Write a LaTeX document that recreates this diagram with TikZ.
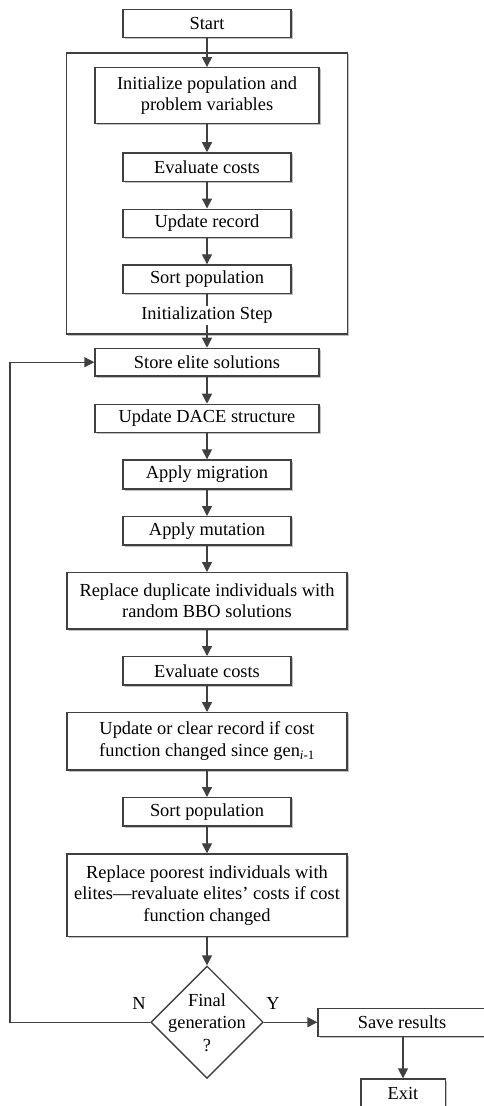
\documentclass[tikz,border=0pt]{standalone}
\usepackage{fontspec}
\setmainfont{Liberation Serif}
\usetikzlibrary{shapes.geometric,arrows.meta,shadows}
\definecolor{ln}{HTML}{404040}
\begin{document}
\begin{tikzpicture}[x=1pt,y=-1pt,
  font=\fontsize{18.4}{21.7}\selectfont,
  shad/.style={drop shadow={shadow xshift=1.6pt, shadow yshift=-1.6pt, fill=black!35, opacity=0.7}},
  box/.style={draw=ln, line width=1.3pt, fill=white, inner sep=0pt, align=center, shad},
  sbox/.style={box, minimum width=168pt, minimum height=28.3pt},
  mbox/.style={box, minimum width=224pt, minimum height=28.3pt},
  lbox/.style={box, minimum width=280pt},
  arr/.style={draw=ln, line width=1.3pt, -{Triangle[length=10pt,width=10pt]}}
]
\useasboundingbox (0,0) rectangle (484,1106);
\clip (0,0) rectangle (484,1106);

% initialization group frame
\node[draw=ln, line width=1.4pt, fill=white, inner sep=0pt, shad,
      minimum width=280.6pt, minimum height=281.3pt] (grp) at (207,193.5) {};

\node[sbox] (start) at (207,23.5) {Start};
\node[mbox, minimum height=56pt] (init) at (207,95.7) {Initialize population and\\problem variables};
\node[sbox] (eval1) at (207,167) {Evaluate costs};
\node[sbox] (upd1) at (207,223.3) {Update record};
\node[sbox, minimum height=28.7pt] (sort1) at (207,279.3) {Sort population};

\node[mbox, minimum height=27.7pt] (store) at (207,362.2) {Store elite solutions};
\node[mbox] (dace) at (207,418.5) {Update DACE structure};
\node[sbox, minimum height=29pt] (migr) at (207,474.5) {Apply migration};
\node[sbox] (mut) at (207,530.8) {Apply mutation};
\node[lbox, minimum height=56.3pt] (repdup) at (207,600.8) {Replace duplicate individuals with\\random BBO solutions};
\node[sbox] (eval2) at (207,670.8) {Evaluate costs};
\node[lbox, minimum height=57.3pt] (updclr) at (207,741.3) {Update or clear record if cost\\function changed since gen\textsubscript{\textit{i}-1}};
\node[sbox] (sort2) at (207,811.8) {Sort population};
\node[lbox, minimum height=82.7pt] (reppoor) at (207,895.3) {Replace poorest individuals with\\elites---revaluate elites' costs if cost\\function changed};

\node[diamond, draw=ln, line width=1.3pt, fill=white, inner sep=0pt,
      minimum width=112.3pt, minimum height=112.3pt] (dec) at (207,1022.2) {};
\node[align=center, inner sep=0pt, font=\fontsize{18.4}{22.5}\selectfont] (dect) at (207,1022.6) {Final\\generation\\?};

\node[box, minimum width=168pt, minimum height=28pt] (save) at (402,1022.2) {Save results};
\node[box, minimum width=84.3pt, minimum height=28pt] (exit) at (403,1093) {Exit};

\node (nlab) at (139,1003) {N};
\node (ylab) at (273,1003) {Y};

\coordinate (loop) at (10,1022.2);

\draw[arr] (start) -- (init);
\draw[arr] (init) -- (eval1);
\draw[arr] (eval1) -- (upd1);
\draw[arr] (upd1) -- (sort1);
\draw[arr] (sort1) -- (store);
\node[fill=white, inner sep=1pt] (steplab) at (207,315.5) {Initialization Step};
\draw[arr] (store) -- (dace);
\draw[arr] (dace) -- (migr);
\draw[arr] (migr) -- (mut);
\draw[arr] (mut) -- (repdup);
\draw[arr] (repdup) -- (eval2);
\draw[arr] (eval2) -- (updclr);
\draw[arr] (updclr) -- (sort2);
\draw[arr] (sort2) -- (reppoor);
\draw[arr] (reppoor) -- (dec);
\draw[arr] (dec.east) -- (save.west);
\draw[arr] (save.south -| exit.north) -- (exit.north);
\draw[arr] (dec.west) -- (loop) |- (store.west);
\end{tikzpicture}
\end{document}
